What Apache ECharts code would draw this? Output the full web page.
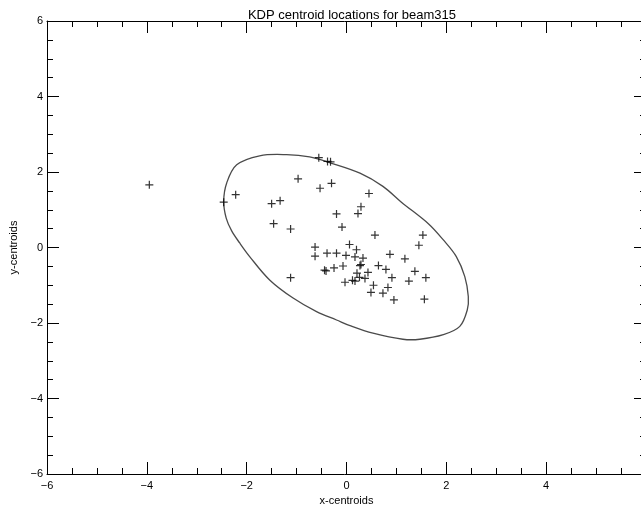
<!DOCTYPE html>
<html>
<head>
<meta charset="utf-8">
<title>KDP centroid locations</title>
<script src="https://cdn.jsdelivr.net/npm/echarts@6/dist/echarts.min.js"></script>
<style>
  html, body { margin: 0; padding: 0; background: #fff; }
  #main { width: 641px; height: 506px; }
</style>
</head>
<body>
<div id="main"></div>
<script>
// centroid x / y
var centroidX = [-3.95, -2.46, -2.22, -1.50, -1.33, -1.46, -1.12, -1.12, -0.97, -0.555,
  -0.38, -0.32, -0.53, -0.30, 0.45, 0.29, 0.23, -0.20, -0.09, 0.57,
  1.53, 1.45, -0.63, -0.63, -0.39, -0.20, 0.06, 0.20, -0.01, 0.17,
  0.33, 0.87, 1.17, 0.29, 0.27, -0.07, -0.25, -0.44, -0.41, 0.64,
  0.79, 0.21, 0.43, 1.37, 1.59, 0.26, 0.37, 0.91, 1.25, -0.03,
  0.12, 0.17, 0.54, 0.83, 0.49, 0.73, 0.95, 1.56];
var centroidY = [1.66, 1.20, 1.40, 1.16, 1.24, 0.63, 0.49, -0.80, 1.82, 2.38,
  2.28, 2.27, 1.57, 1.70, 1.43, 1.08, 0.90, 0.89, 0.54, 0.33,
  0.33, 0.06, 0.01, -0.23, -0.15, -0.15, 0.08, -0.06, -0.21, -0.25,
  -0.28, -0.18, -0.30, -0.45, -0.48, -0.49, -0.54, -0.60, -0.62, -0.48,
  -0.58, -0.68, -0.66, -0.63, -0.80, -0.79, -0.82, -0.80, -0.89, -0.92,
  -0.87, -0.89, -1.00, -1.06, -1.19, -1.21, -1.39, -1.37];

// outline of the ellipse (closed, no repeat)
var ellipseX = [-2.46, -2.40, -2.20, -1.74, -1.20, -0.74, -0.34, 0.27, 0.73, 1.10,
  1.64, 1.94, 2.20, 2.37, 2.44, 2.42, 2.27, 1.94, 1.47, 1.13,
  0.53, 0.07, -0.20, -0.60, -1.07, -1.54, -1.94, -2.14, -2.30, -2.41];
var ellipseY = [1.22, 1.71, 2.19, 2.43, 2.46, 2.40, 2.25, 1.97, 1.62, 1.20,
  0.63, 0.20, -0.24, -0.77, -1.30, -1.65, -2.09, -2.31, -2.43, -2.43,
  -2.27, -2.07, -1.92, -1.70, -1.34, -0.86, -0.24, 0.12, 0.44, 0.78];

var xTicks = [-6, 6, 2];   // min, max, step
var yTicks = [-6, 6, 2];

var scatterData = [];
for (var i = 0; i < centroidX.length; i++) {
  scatterData.push([centroidX[i], centroidY[i]]);
}
var ellipseData = [];
for (var j = 0; j < ellipseX.length; j++) {
  ellipseData.push([ellipseX[j], ellipseY[j]]);
}

var font = 'Liberation Sans, Arial, sans-serif';
function minusLabel(v) {
  return String(v).replace('-', '\u2212');
}

function makeAxis(extra, ticks) {
  var base = {
    type: 'value',
    min: ticks[0],
    max: ticks[1],
    interval: ticks[2],
    axisLine: { show: true, onZero: false, lineStyle: { color: '#000', width: 1 } },
    axisTick: { show: true, inside: true, length: 12, lineStyle: { color: '#000', width: 1 } },
    minorTick: { show: true, splitNumber: 4, length: 6, lineStyle: { color: '#000', width: 1 } },
    splitLine: { show: false },
    minorSplitLine: { show: false },
    axisLabel: { show: false },
    nameTextStyle: { color: '#000', fontFamily: font, fontSize: 11 }
  };
  for (var k in extra) base[k] = extra[k];
  return base;
}

// whole ellipse drawn as one closed smooth outline
function renderEllipse(params, api) {
  if (params.dataIndex !== 0) return;
  var pts = [];
  for (var n = 0; n < ellipseData.length; n++) {
    pts.push(api.coord(ellipseData[n]));
  }
  return {
    type: 'polygon',
    shape: { points: pts, smooth: 0.35 },
    style: { fill: 'none', stroke: '#4a4a4a', lineWidth: 1.3 },
    silent: true
  };
}

var myChart = echarts.init(document.getElementById('main'));
myChart.setOption({
  backgroundColor: '#fff',
  animation: false,
  title: {
    text: 'KDP centroid locations for beam315',
    left: 347,
    top: 4,
    textAlign: 'center',
    textStyle: { color: '#000', fontFamily: font, fontSize: 13, fontWeight: 'normal' }
  },
  grid: { left: 47, top: 21, right: -5, bottom: 32, outerBoundsMode: 'none', containLabel: false },
  xAxis: [
    makeAxis({
      position: 'bottom',
      name: 'x-centroids',
      nameLocation: 'middle',
      nameGap: 19,
      axisLabel: { show: true, color: '#000', fontFamily: font, fontSize: 11, margin: 6, formatter: minusLabel }
    }, xTicks),
    makeAxis({ position: 'top' }, xTicks)
  ],
  yAxis: [
    makeAxis({
      position: 'left',
      name: 'y-centroids',
      nameLocation: 'middle',
      nameRotate: 90,
      nameGap: 25,
      axisLabel: { show: true, color: '#000', fontFamily: font, fontSize: 11, margin: 4, formatter: minusLabel }
    }, yTicks),
    makeAxis({ position: 'right' }, yTicks)
  ],
  series: [
    {
      name: 'ellipse',
      type: 'custom',
      xAxisIndex: 0,
      yAxisIndex: 0,
      data: ellipseData,
      renderItem: renderEllipse,
      silent: true
    },
    {
      name: 'centroids',
      type: 'scatter',
      xAxisIndex: 0,
      yAxisIndex: 0,
      data: scatterData,
      symbol: 'path://M0,5L10,5M5,0L5,10',
      symbolSize: 8,
      itemStyle: { color: '#000', borderColor: '#000', borderWidth: 1.2 }
    }
  ]
});
</script>
</body>
</html>
